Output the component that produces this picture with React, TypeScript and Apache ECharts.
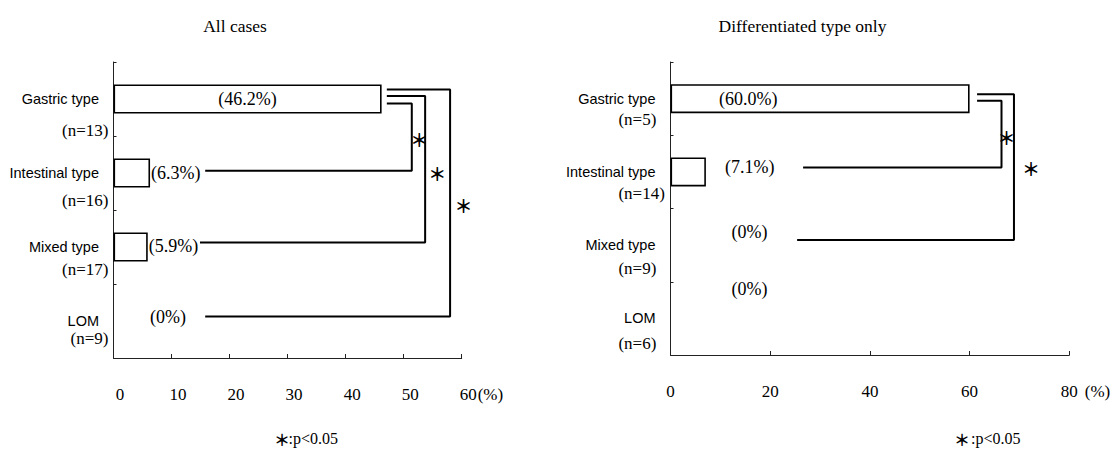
import React, { useEffect, useRef } from 'react';
import * as echarts from 'echarts';

// ---------- data ----------
const CATEGORIES = ['Gastric type', 'Intestinal type', 'Mixed type', 'LOM'];
const ALL_N = ['(n=13)', '(n=16)', '(n=17)', '(n=9)'];
const ALL_VALUES = [46.2, 6.3, 5.9, 0];
const ALL_MAX = 60;
const ALL_STEP = 10;

const DIFF_N = ['(n=5)', '(n=14)', '(n=9)', '(n=6)'];
const DIFF_VALUES = [60.0, 7.1, 0, 0];
const DIFF_MAX = 80;
const DIFF_STEP = 20;

// significance brackets: [x value, category position]
const ALL_BRACKETS = [
  [[47.1, 0.06], [51.4, 0.06], [51.4, 0.97], [15.8, 0.97]],
  [[47.1, -0.04], [53.7, -0.04], [53.7, 1.94], [14.9, 1.94]],
  [[47.1, -0.13], [58.0, -0.13], [58.0, 2.94], [15.8, 2.94]],
];
const ALL_STARS = [[52.7, 0.545], [55.8, 1.0], [60.3, 1.43]];
const DIFF_BRACKETS = [
  [[61.5, 0.03], [66.4, 0.03], [66.4, 0.94], [26.6, 0.94]],
  [[61.5, -0.06], [68.9, -0.06], [68.9, 1.93], [25.4, 1.93]],
];
const DIFF_STARS = [[67.4, 0.52], [72.3, 0.95]];

// ---------- styles / layout ----------
const SERIF = '"Liberation Serif", "Times New Roman", serif';
const SANS = '"Liberation Sans", Arial, sans-serif';
const STAR_FONT = '"Noto Sans CJK JP", "DejaVu Sans", sans-serif';
const INK = '#000';

const ALL_LABEL_LAYOUT = [
  { position: 'inside' },
  { position: 'right', distance: 1 },
  { position: 'right', distance: 1, offset: [0, -1.5] },
  { position: 'right', distance: 36.5, offset: [0, -4] },
];
const DIFF_LABEL_LAYOUT = [
  { position: 'insideLeft', distance: 48.5, offset: [0, 0.7] },
  { position: 'right', distance: 19, offset: [0, -4.6] },
  { position: 'insideLeft', distance: 61, offset: [0, -12.8] },
  { position: 'insideLeft', distance: 61, offset: [0, -29] },
];
const ALL_N_OFFSETS = [31, 27, 22.3, 17.3];
const DIFF_N_OFFSETS = [20.7, 21.4, 23.2, 24.9];

const PANELS = [
  {
    title: 'All cases',
    titleX: 230,
    grid: { left: 113.5, top: 62, width: 348.2, height: 296 },
    values: ALL_VALUES,
    nLabels: ALL_N,
    max: ALL_MAX,
    step: ALL_STEP,
    brackets: ALL_BRACKETS,
    stars: ALL_STARS,
    labelLayout: ALL_LABEL_LAYOUT,
    nOffsets: ALL_N_OFFSETS,
    nAlign: 'right',
    nDistance: 4.5,
    catMargin: 14.5,
    tickPad: [0, 0, 0, 13],
    nameGap: 16,
  },
  {
    title: 'Differentiated type only',
    titleX: 797.5,
    grid: { left: 670.5, top: 62, width: 398.8, height: 293 },
    values: DIFF_VALUES,
    nLabels: DIFF_N,
    max: DIFF_MAX,
    step: DIFF_STEP,
    brackets: DIFF_BRACKETS,
    stars: DIFF_STARS,
    labelLayout: DIFF_LABEL_LAYOUT,
    nOffsets: DIFF_N_OFFSETS,
    nAlign: 'left',
    nDistance: 51.6,
    catMargin: 15,
    tickPad: [0, 0, 0, 0],
    nameGap: 15.5,
  },
];

const pctLabel = (v: number) => (v === 0 ? '(0%)' : `(${v.toFixed(1)}%)`);

const hiddenPoint = { color: '#000', opacity: 0 };
const plainLabel = {
  color: INK,
  opacity: 1,
  textBorderWidth: 0,
  textBorderColor: 'transparent',
  textShadowBlur: 0,
};

function buildOption() {
  const grid: any[] = [];
  const xAxis: any[] = [];
  const yAxis: any[] = [];
  const series: any[] = [];
  const title: any[] = [];

  PANELS.forEach((p, i) => {
    grid.push({ ...p.grid, containLabel: false });
    title.push({
      text: p.title,
      left: p.titleX,
      top: 12,
      textAlign: 'center',
      textStyle: { fontFamily: SERIF, fontSize: 17.5, fontWeight: 'normal', color: INK },
    });
    xAxis.push({
      type: 'value',
      gridIndex: i,
      min: 0,
      max: p.max,
      interval: p.step,
      position: 'bottom',
      splitLine: { show: false },
      axisLine: { show: true, onZero: false, lineStyle: { color: '#222', width: 1 } },
      axisTick: { show: true, inside: true, length: 4, lineStyle: { color: '#222' } },
      axisLabel: {
        color: INK,
        fontFamily: SERIF,
        fontSize: 17,
        margin: 28,
        padding: p.tickPad,
        showMinLabel: true,
        showMaxLabel: true,
      },
      name: '(%)',
      nameLocation: 'end',
      nameGap: p.nameGap,
      nameMoveOverlap: false,
      nameTextStyle: {
        fontFamily: SERIF,
        fontSize: 17,
        color: INK,
        align: 'left',
        verticalAlign: 'top',
        padding: [28, 0, 0, 0],
      },
    });
    yAxis.push({
      type: 'category',
      gridIndex: i,
      data: CATEGORIES,
      inverse: true,
      position: 'left',
      axisLine: { show: true, onZero: false, lineStyle: { color: '#222', width: 1 } },
      axisTick: { show: true, inside: true, length: 3, lineStyle: { color: '#222' } },
      axisLabel: { color: INK, fontFamily: SANS, fontSize: 14.5, margin: p.catMargin },
      splitLine: { show: false },
    });
    yAxis.push({
      type: 'value',
      gridIndex: i,
      min: -0.5,
      max: 3.5,
      inverse: true,
      show: false,
      axisLine: { onZero: false },
    });
    const catAxis = 2 * i;
    const valAxis = 2 * i + 1;

    series.push({
      type: 'bar',
      xAxisIndex: i,
      yAxisIndex: catAxis,
      barWidth: 29,
      itemStyle: { color: '#fff', borderColor: INK, borderWidth: 1.6 },
      label: {
        show: true,
        color: INK,
        fontFamily: SERIF,
        fontSize: 18,
        formatter: (d: any) => pctLabel(d.value),
      },
      data: p.values.map((v, k) => ({
        value: v,
        itemStyle: v === 0 ? { borderWidth: 0 } : undefined,
        label: { show: true, color: INK, ...p.labelLayout[k] },
      })),
    });

    series.push({
      type: 'scatter',
      xAxisIndex: i,
      yAxisIndex: catAxis,
      symbolSize: 1,
      itemStyle: hiddenPoint,
      clip: false,
      silent: true,
      label: { show: true, ...plainLabel, fontFamily: SERIF, fontSize: 17 },
      data: CATEGORIES.map((c, k) => ({
        value: [0, c],
        label: {
          show: true,
          ...plainLabel,
          position: 'left',
          distance: p.nDistance,
          align: p.nAlign,
          offset: [0, p.nOffsets[k]],
          formatter: p.nLabels[k],
          fontFamily: SERIF,
          fontSize: 17,
        },
      })),
    });

    p.brackets.forEach((pts) => {
      series.push({
        type: 'line',
        xAxisIndex: i,
        yAxisIndex: valAxis,
        data: pts,
        symbol: 'none',
        clip: false,
        silent: true,
        lineStyle: { color: INK, width: 2 },
      });
    });

    series.push({
      type: 'scatter',
      xAxisIndex: i,
      yAxisIndex: valAxis,
      symbolSize: 1,
      itemStyle: hiddenPoint,
      clip: false,
      silent: true,
      data: p.stars,
      label: {
        show: true,
        ...plainLabel,
        position: 'right',
        distance: 0,
        offset: [-9.5, 0],
        formatter: '＊',
        fontFamily: STAR_FONT,
        fontWeight: 'bold',
        fontSize: 18,
      },
    });
  });

  return {
    animation: false,
    backgroundColor: '#fff',
    title,
    grid,
    xAxis,
    yAxis,
    series,
    graphic: [
      { type: 'text', x: 282, y: 439, style: { text: '＊', fontFamily: STAR_FONT, fontWeight: 'bold', fontSize: 16, fill: INK, align: 'center', verticalAlign: 'middle' } },
      { type: 'text', x: 288.5, y: 438, style: { text: ':p<0.05', fontFamily: SERIF, fontSize: 16, fill: INK, align: 'left', verticalAlign: 'middle' } },
      { type: 'text', x: 962, y: 439, style: { text: '＊', fontFamily: STAR_FONT, fontWeight: 'bold', fontSize: 16, fill: INK, align: 'center', verticalAlign: 'middle' } },
      { type: 'text', x: 971, y: 438, style: { text: ':p<0.05', fontFamily: SERIF, fontSize: 16, fill: INK, align: 'left', verticalAlign: 'middle' } },
    ],
  };
}

export default function App() {
  const ref = useRef<HTMLDivElement>(null);
  useEffect(() => {
    if (!ref.current) return;
    const chart = echarts.init(ref.current, undefined, { renderer: 'svg' });
    chart.setOption(buildOption() as any);
    return () => chart.dispose();
  }, []);
  return (
    <div
      ref={ref}
      style={{ position: 'fixed', left: 0, top: 0, width: 1115, height: 450, background: '#fff' }}
    />
  );
}
